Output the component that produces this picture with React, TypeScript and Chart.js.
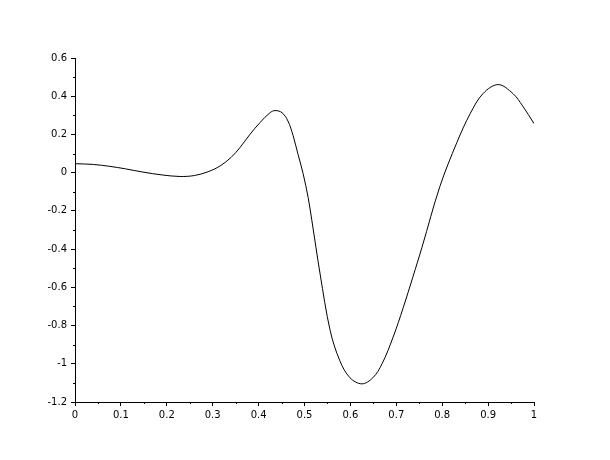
import React, { useEffect, useRef } from "react";
import { Chart, registerables } from "chart.js";

Chart.register(...registerables);

const xValues = [0, 0.04, 0.076, 0.11, 0.148, 0.19, 0.229, 0.26, 0.29, 0.316, 0.34, 0.359, 0.381, 0.403, 0.425, 0.436, 0.451, 0.464, 0.475, 0.486, 0.497, 0.508, 0.516, 0.534, 0.556, 0.577, 0.599, 0.625, 0.649, 0.669, 0.693, 0.715, 0.736, 0.756, 0.795, 0.832, 0.861, 0.889, 0.922, 0.954, 0.975, 1];
const yValues = [0.047, 0.043, 0.033, 0.02, 0.003, -0.012, -0.02, -0.015, 0.005, 0.035, 0.08, 0.13, 0.2, 0.262, 0.314, 0.325, 0.314, 0.27, 0.195, 0.095, -0.005, -0.131, -0.25, -0.53, -0.827, -0.984, -1.073, -1.105, -1.073, -1.0, -0.861, -0.707, -0.547, -0.39, -0.072, 0.158, 0.309, 0.414, 0.461, 0.414, 0.35, 0.257];

const xMin = 0, xMax = 1, xStep = 0.1;
const yMin = -1.2, yMax = 0.6, yStep = 0.2;

const fmt = (v: number) => {
  const r = Math.round(v * 10) / 10;
  return r === 0 ? "0" : String(r);
};

const minorTicks = {
  id: "minorTicks",
  afterDraw(chart: any) {
    const ctx = chart.ctx;
    const xs = chart.scales.x;
    const ys = chart.scales.y;
    ctx.save();
    ctx.strokeStyle = "#000";
    ctx.lineWidth = 1;
    ctx.beginPath();
    for (let v = xMin + xStep / 2; v < xMax; v += xStep) {
      const px = Math.round(xs.getPixelForValue(v)) + 0.5;
      ctx.moveTo(px, xs.top);
      ctx.lineTo(px, xs.top + 2);
    }
    for (let v = yMin + yStep / 2; v < yMax; v += yStep) {
      const py = Math.round(ys.getPixelForValue(v)) + 0.5;
      ctx.moveTo(ys.right, py);
      ctx.lineTo(ys.right - 2, py);
    }
    ctx.stroke();
    ctx.restore();
  },
};

export default function App() {
  const ref = useRef<HTMLCanvasElement>(null);
  useEffect(() => {
    if (!ref.current) return;
    const data = xValues.map((x, i) => ({ x, y: yValues[i] }));
    const font = { family: "DejaVu Sans", size: 10 };
    const chart = new Chart(ref.current, {
      type: "line",
      data: {
        datasets: [
          {
            data,
            borderColor: "#000",
            borderWidth: 1,
            pointRadius: 0,
            tension: 0.35,
            fill: false,
          },
        ],
      },
      options: {
        animation: false,
        responsive: false,
        layout: { padding: { top: 58, right: 76, left: 0, bottom: 0 } },
        plugins: { legend: { display: false }, tooltip: { enabled: false } },
        scales: {
          x: {
            type: "linear",
            min: xMin,
            max: xMax,
            afterFit: (s: any) => { s.height = 58; },
            ticks: { stepSize: xStep, color: "#000", font, padding: 3, maxRotation: 0, callback: (v: any) => fmt(Number(v)) },
            grid: { drawOnChartArea: false, drawTicks: true, tickLength: 4, color: "#000", tickColor: "#000" },
            border: { display: true, color: "#000", width: 1 },
          },
          y: {
            type: "linear",
            min: yMin,
            max: yMax,
            afterFit: (s: any) => { s.width = 75; },
            ticks: { stepSize: yStep, color: "#000", font, padding: 4, callback: (v: any) => fmt(Number(v)) },
            grid: { drawOnChartArea: false, drawTicks: true, tickLength: 4, color: "#000", tickColor: "#000" },
            border: { display: true, color: "#000", width: 1 },
          },
        },
      },
      plugins: [minorTicks],
    } as any);
    return () => chart.destroy();
  }, []);
  return (
    <div style={{ position: "fixed", left: 0, top: 0, width: 610, height: 460, background: "#fff" }}>
      <canvas ref={ref} width={610} height={460} />
    </div>
  );
}
